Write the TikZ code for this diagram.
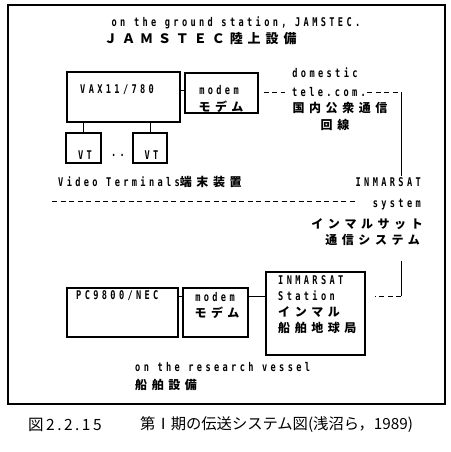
\documentclass[tikz,border=0pt]{standalone}
\usepackage{fontspec}
\newfontfamily\tw{DejaVu Sans Mono}[LetterSpace=28, FakeStretch=0.72]
\newfontfamily\jp{Noto Sans CJK JP}[LetterSpace=38]
\newfontfamily\jpc{Noto Sans CJK JP}
\newfontfamily\jpd{Noto Sans CJK JP}[LetterSpace=16]
\begin{document}
\begin{tikzpicture}[x=1pt,y=-1pt,
  box/.style={draw, line width=1.1pt, inner sep=0pt},
  lbl/.style={font=\tw\bfseries\fontsize{12}{13}\selectfont, inner sep=0pt},
  jlb/.style={font=\jp\bfseries\fontsize{12}{13}\selectfont, inner sep=0pt},
  dsh/.style={dash pattern=on 5pt off 3.5pt, line width=1pt},
  ln/.style={line width=1pt}]
\useasboundingbox (0,0) rectangle (450,452);
% outer frame
\node[draw, line width=1.3pt, minimum width=437pt, minimum height=399pt, inner sep=0pt] (frame) at (226.5,204.5) {};
% titles
\node[lbl] (t1) at (236,23) {on the ground station, JAMSTEC.};
\node[jlb, font=\jp\bfseries\fontsize{13}{14}\selectfont, anchor=west] (t2) at (104,39) {ＪＡＭＳＴＥＣ陸上設備};
% VAX
\node[box, minimum width=113pt, minimum height=50pt] (vax) at (123.5,97) {};
\node[lbl, anchor=west] (vaxt) at (80,90) {VAX11/780};
% modem 1
\node[box, minimum width=73pt, minimum height=40pt] (m1) at (221.5,93) {};
\node[lbl] (m1a) at (219,90) {modem};
\node[jlb] (m1b) at (221,107) {モデム};
\draw[ln] (vax.east |- vaxt) -- (m1.west |- vaxt);
% domestic
\node[lbl] (dom) at (325,73) {domestic};
\node[lbl] (tel) at (329,92) {tele.com.};
\node[jlb] (kok) at (340,108) {国内公衆通信};
\node[jlb] (kai) at (335,125) {回線};
\coordinate (c1) at (401,92);
\coordinate (c2) at (401,176);
\draw[dsh] (m1.east |- tel) ++(5,0) -- ([xshift=-7pt]tel.west);
\draw[dsh] ([xshift=1pt]tel.east) -- (c1);
\draw[ln] (c1) -- (c2);
% VTs
\node[box, minimum width=35pt, minimum height=30pt] (vt1) at (83.5,148) {};
\node[box, minimum width=34pt, minimum height=30pt] (vt2) at (150,148) {};
\node[lbl] at (85,155) {VT};
\node[lbl] at (151.5,155) {VT};
\node[lbl] (dots) at (118,155) {..};
\draw[ln] (vax.south -| vt1) -- (vt1.north);
\draw[ln] (vax.south -| vt2) -- (vt2.north);
\node[lbl, anchor=west] (vtt) at (58,182) {Video Terminals\jp\fontsize{12}{13}\selectfont 端末装置};
% separator
\coordinate (s1) at (52,201);
\coordinate (s2) at (357,201);
\draw[dsh] (s1) -- (s2);
% INMARSAT system
\node[lbl, anchor=east] (is1) at (421,182) {INMARSAT};
\node[lbl, anchor=east] (is2) at (421,205) {system};
\node[jlb, anchor=east] (is3) at (423,224) {インマルサット};
\node[jlb, anchor=east] (is4) at (420,240) {通信システム};
\coordinate (c3) at (401,261);
\coordinate (c4) at (401,296);
\coordinate (c5) at (375,296);
\draw[ln] (c3) -- (c4);
\draw[dsh] (c4) -- (c5);
% vessel
\node[box, minimum width=111pt, minimum height=49pt] (pc) at (122.5,312.5) {};
\node[lbl, anchor=west] (pct) at (76,296) {PC9800/NEC};
\node[box, minimum width=65pt, minimum height=49pt] (m2) at (215.5,312.5) {};
\node[lbl] (m2a) at (215,297) {modem};
\node[jlb] (m2b) at (217,313) {モデム};
\node[box, minimum width=99pt, minimum height=83pt] (st) at (315.5,313.5) {};
\node[lbl, anchor=west] (st1) at (278,280) {INMARSAT};
\node[lbl, anchor=west] (st2) at (278,296) {Station};
\node[jlb, anchor=west] (st3) at (278,312) {インマル};
\node[jlb, anchor=west] (st4) at (278,328) {船舶地球局};
\draw[ln] (pc.east |- pct) -- (m2.west |- pct);
\draw[ln] (m2.east |- pct) -- (st.west |- pct);
\node[lbl, anchor=west] (rv) at (135,367) {on the research vessel};
\node[jlb, anchor=west] (rv2) at (135,385) {船舶設備};
% caption
\node[font=\jpd\fontsize{15.5}{16}\selectfont, anchor=west, inner sep=0pt] (cap1) at (28,425) {図2.2.15};
\node[font=\jpc\fontsize{15.3}{16}\selectfont, anchor=west, inner sep=0pt] (cap2) at (140,425) {第Ⅰ期の伝送システム図(浅沼ら，1989)};
\end{tikzpicture}
\end{document}
